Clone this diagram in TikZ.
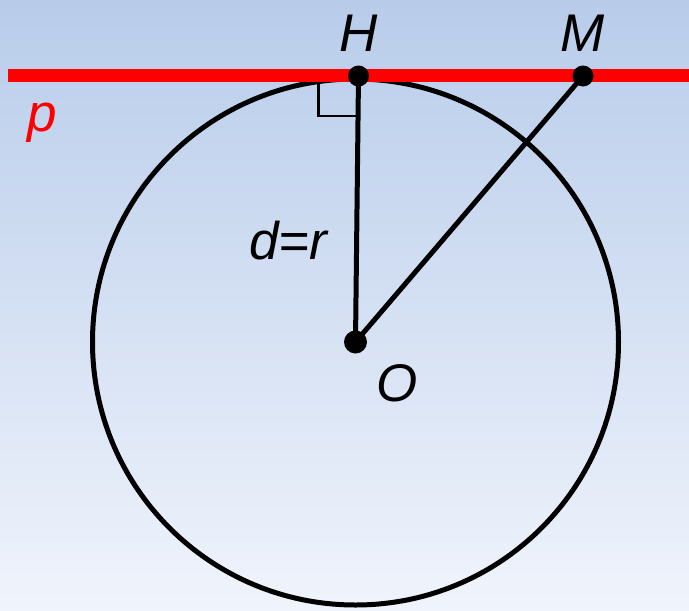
\documentclass[tikz,border=0pt]{standalone}
\usepackage{fontspec}
\setmainfont{Liberation Sans}
\usetikzlibrary{positioning,calc}
\definecolor{cTop}{RGB}{184,204,234}
\definecolor{cBot}{RGB}{240,244,252}
\definecolor{cTangent}{RGB}{255,0,0}
\tikzset{
  dot/.style ={draw=none, fill=black, circle, inner sep=0pt, minimum size=21pt},
  cdot/.style={draw=none, fill=black, circle, inner sep=0pt, minimum size=23pt},
  lbl/.style ={font=\fontsize{53}{60}\selectfont\itshape, inner sep=0pt},
  seg/.style ={line width=5pt, draw=black},
}

\begin{document}
\begin{tikzpicture}[x=1pt,y=-1pt]
  % background
  \shade[top color=cTop, bottom color=cBot] (0,0) rectangle (689,611);
  \useasboundingbox (0,0) rectangle (689,611);
  \coordinate (O) at (355.5,342);
  \coordinate (H) at (358.5,76);
  \coordinate (M) at (583,76);
  \coordinate (pL) at (8,75.5);
  \coordinate (pR) at (689,75.5);
  % circle and segments
  \draw[seg] (O) circle (263pt);
  \draw[seg] (O) -- (H);
  \draw[seg] (O) -- (M);
  \draw[line width=2.5pt] ($(H)+(-40,0)$) |- ($(H)+(-2,40)$);
  % tangent line
  \draw[line width=13pt, cTangent] (pL) -- (pR);
  % points
  \node[dot] (dH) at (H) {};
  \node[dot] (dM) at (M) {};
  \node[cdot] (dO) at (O) {};
  % labels
  \node[lbl, above=14pt of dH] {H};
  \node[lbl, above=14pt of dM] {M};
  \node[lbl, below right=14pt and 13pt of dO] {O};
  \coordinate (mid) at ($(H)!0.62!(O)$);
  \node[lbl, left=29pt of mid] {d=r};
  \node[lbl, text=cTangent] (p) at (42,123) {p};
\end{tikzpicture}
\end{document}
